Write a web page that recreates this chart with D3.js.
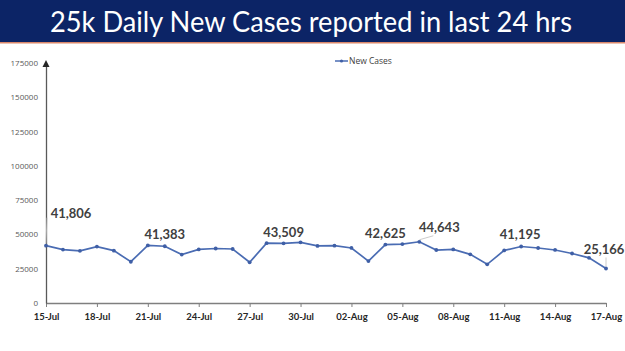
<!DOCTYPE html>
<html>
<head>
<meta charset="utf-8">
<script src="https://cdn.jsdelivr.net/npm/d3@7"></script>
<style>
  body { margin: 0; background: #fff; }
  svg { display: block; }
</style>
</head>
<body>
<svg id="chart"></svg>
<script>
// daily new cases, 15-Jul to 17-Aug
let dates = ["15-Jul","16-Jul","17-Jul","18-Jul","19-Jul","20-Jul","21-Jul","22-Jul","23-Jul","24-Jul",
    "25-Jul","26-Jul","27-Jul","28-Jul","29-Jul","30-Jul","31-Jul","01-Aug","02-Aug","03-Aug",
    "04-Aug","05-Aug","06-Aug","07-Aug","08-Aug","09-Aug","10-Aug","11-Aug","12-Aug","13-Aug",
    "14-Aug","15-Aug","16-Aug","17-Aug"];
let newCases = [41806,38949,38079,41157,38164,30093,42015,41383,35342,39097,
    39742,39361,29689,43654,43509,44230,41649,41831,40134,30549,
    42625,42982,44643,38628,39070,35499,28204,38353,41195,40120,
    38667,36083,32937,25166];
let yTicks = [0,25000,50000,75000,100000,125000,150000,175000];
let xTickLabels = ["15-Jul","18-Jul","21-Jul","24-Jul","27-Jul","30-Jul","02-Aug","05-Aug","08-Aug","11-Aug","14-Aug","17-Aug"];
let labelled = ["15-Jul","22-Jul","29-Jul","04-Aug","06-Aug","12-Aug","17-Aug"];

let w = 625;
let h = 351;

let svg = d3.select('#chart')
    .attr('width', w)
    .attr('height', h);

// title banner
svg.append('rect')
    .attr('x', 0).attr('y', 0)
    .attr('width', w).attr('height', 42)
    .attr('fill', '#0c2466');
svg.append('rect')
    .attr('x', 0).attr('y', 42)
    .attr('width', w).attr('height', 1.5)
    .attr('fill', '#d9876a');
svg.append('text')
    .attr('x', 311)
    .attr('y', 32)
    .attr('text-anchor', 'middle')
    .attr('font-family', 'Lato, sans-serif')
    .attr('font-size', '28px')
    .attr('fill', '#fff')
    .attr('textLength', 522)
    .attr('lengthAdjust', 'spacingAndGlyphs')
    .text('25k Daily New Cases reported in last 24 hrs');

let xScale = d3.scalePoint()
    .domain(dates)
    .range([46, 606]);

let yScale = d3.scaleLinear()
    .domain([0, 175000])
    .range([303, 63]);

// x axis
let xAxis = svg.append('g')
    .attr('transform', `translate(0, ${yScale(0)})`)
    .call(d3.axisBottom(xScale)
        .tickValues(xTickLabels)
        .tickSize(4)
        .tickSizeOuter(0));
xAxis.select('.domain').attr('stroke', '#7f7f7f').attr('stroke-width', 1.3);
xAxis.selectAll('.tick line').attr('stroke', '#7f7f7f');
xAxis.selectAll('.tick text')
    .attr('dy', '1.05em')
    .attr('font-family', 'Lato, sans-serif')
    .attr('font-weight', 'bold')
    .attr('font-size', '9.5px')
    .attr('fill', '#262626');

// y axis
let yAxis = svg.append('g')
    .attr('transform', 'translate(46, 0)')
    .call(d3.axisLeft(yScale)
        .tickValues(yTicks)
        .tickFormat(d3.format('d'))
        .tickSize(0)
        .tickPadding(8));
yAxis.select('.domain').attr('stroke', '#595959').attr('stroke-width', 1.3);
yAxis.selectAll('.tick text')
    .attr('font-family', 'Open Sans, sans-serif')
    .attr('font-size', '8px')
    .attr('fill', '#595959');
// small arrow on top of y axis
svg.append('path')
    .attr('d', `M42.5,${yScale(175000) + 4}L46,${yScale(175000) - 3}L49.5,${yScale(175000) + 4}Z`)
    .attr('fill', '#262626');

// line
let line = d3.line()
    .x((d, i) => xScale(dates[i]))
    .y(d => yScale(d));

svg.append('path')
    .datum(newCases)
    .attr('fill', 'none')
    .attr('stroke', '#4a6cb3')
    .attr('stroke-width', 1.7)
    .attr('d', line);

svg.selectAll('.pt')
    .data(newCases)
    .enter()
    .append('circle')
    .attr('class', 'pt')
    .attr('cx', (d, i) => xScale(dates[i]))
    .attr('cy', d => yScale(d))
    .attr('r', 1.9)
    .attr('fill', '#3f5fa6');

// data labels: [dx, dy, leader line end dx, dy]
let offsets = {
    "15-Jul": [25, -32, 1, -28],
    "22-Jul": [0, -12],
    "29-Jul": [0, -11],
    "04-Aug": [0, -11],
    "06-Aug": [20, -14, 14, -6],
    "12-Aug": [-1, -12],
    "17-Aug": [-2, -19, 0, -11]
};
let fmt = d3.format(',');
labelled.forEach(k => {
    let i = dates.indexOf(k);
    let px = xScale(k);
    let py = yScale(newCases[i]);
    let o = offsets[k];
    if (o.length > 2) {
        svg.append('line')
            .attr('x1', px).attr('y1', py - 2)
            .attr('x2', px + o[2]).attr('y2', py + o[3])
            .attr('stroke', '#bfbfbf')
            .attr('stroke-width', 0.8);
    }
    svg.append('text')
        .attr('x', px + o[0])
        .attr('y', py + o[1] + 4.5)
        .attr('text-anchor', 'middle')
        .attr('font-family', 'Lato, sans-serif')
        .attr('font-weight', 'bold')
        .attr('font-size', '13px')
        .attr('fill', '#404040')
        .text(fmt(newCases[i]));
});

// legend
svg.append('line')
    .attr('x1', 335).attr('x2', 348)
    .attr('y1', 61).attr('y2', 61)
    .attr('stroke', '#4a6cb3')
    .attr('stroke-width', 1.5);
svg.append('circle')
    .attr('cx', 341.5).attr('cy', 61).attr('r', 1.6)
    .attr('fill', '#3f5fa6');
svg.append('text')
    .attr('x', 349)
    .attr('y', 64)
    .attr('font-family', 'Open Sans, sans-serif')
    .attr('font-size', '8.5px')
    .attr('fill', '#404040')
    .text('New Cases');
</script>
</body>
</html>
